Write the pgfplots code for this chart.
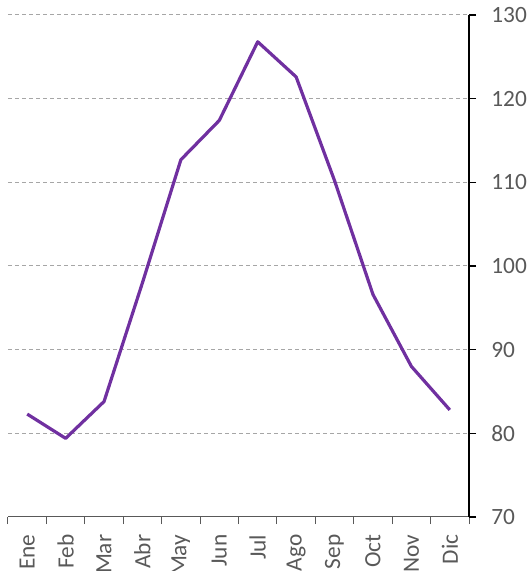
\documentclass[border=0pt]{standalone}
\usepackage{pgfplots}
\pgfplotsset{compat=1.18}
\usepackage{fontspec}
\setmainfont{Carlito}
\definecolor{linepurple}{HTML}{7030A0}
\definecolor{txtgray}{HTML}{595959}
\definecolor{gridgray}{HTML}{A6A6A6}
\begin{document}
\begin{tikzpicture}
\begin{axis}[name=ax, scale only axis, width=345.75pt, height=376.5pt,
 xmin=-0.5, xmax=11.5, ymin=70, ymax=130, ytick={70,80,...,130},
 axis x line*=bottom, axis y line*=right,
 xtick={-0.5,0.5,...,11.5}, x tick label as interval,
 xticklabels={Ene,Feb,Mar,Abr,May,Jun,Jul,Ago,Sep,Oct,Nov,Dic},
 tick align=outside, major tick length=5.25pt,
 xtick style={draw=txtgray, line width=0.75pt},
 ytick style={draw=black, line width=1.2pt},
 x axis line style={draw=txtgray, line width=0.75pt},
 y axis line style={draw=black, line width=1.5pt},
 ymajorgrids, grid style={gridgray, line width=0.75pt, dash pattern=on 3pt off 2.25pt},
 ticklabel style={font=\fontsize{17.5}{20}\selectfont, text=txtgray},
 yticklabel style={xshift=8pt},
 xticklabel style={rotate=90, anchor=east, xshift=-4.5pt},
 /pgf/number format/assume math mode=true,
 clip=false,
]
\addplot[linepurple, line width=2.4pt, line join=round] coordinates {
(0,82.3) (1,79.4) (2,83.8) (3,98.0) (4,112.7) (5,117.4) (6,126.8) (7,122.6) (8,110.2) (9,96.6) (10,88.0) (11,82.8)};
\end{axis}
\pgfresetboundingbox
\path ([shift={(-6pt,-40.5pt)}]ax.south west) rectangle ([shift={(44.25pt,11.25pt)}]ax.north east);
\end{tikzpicture}
\end{document}
